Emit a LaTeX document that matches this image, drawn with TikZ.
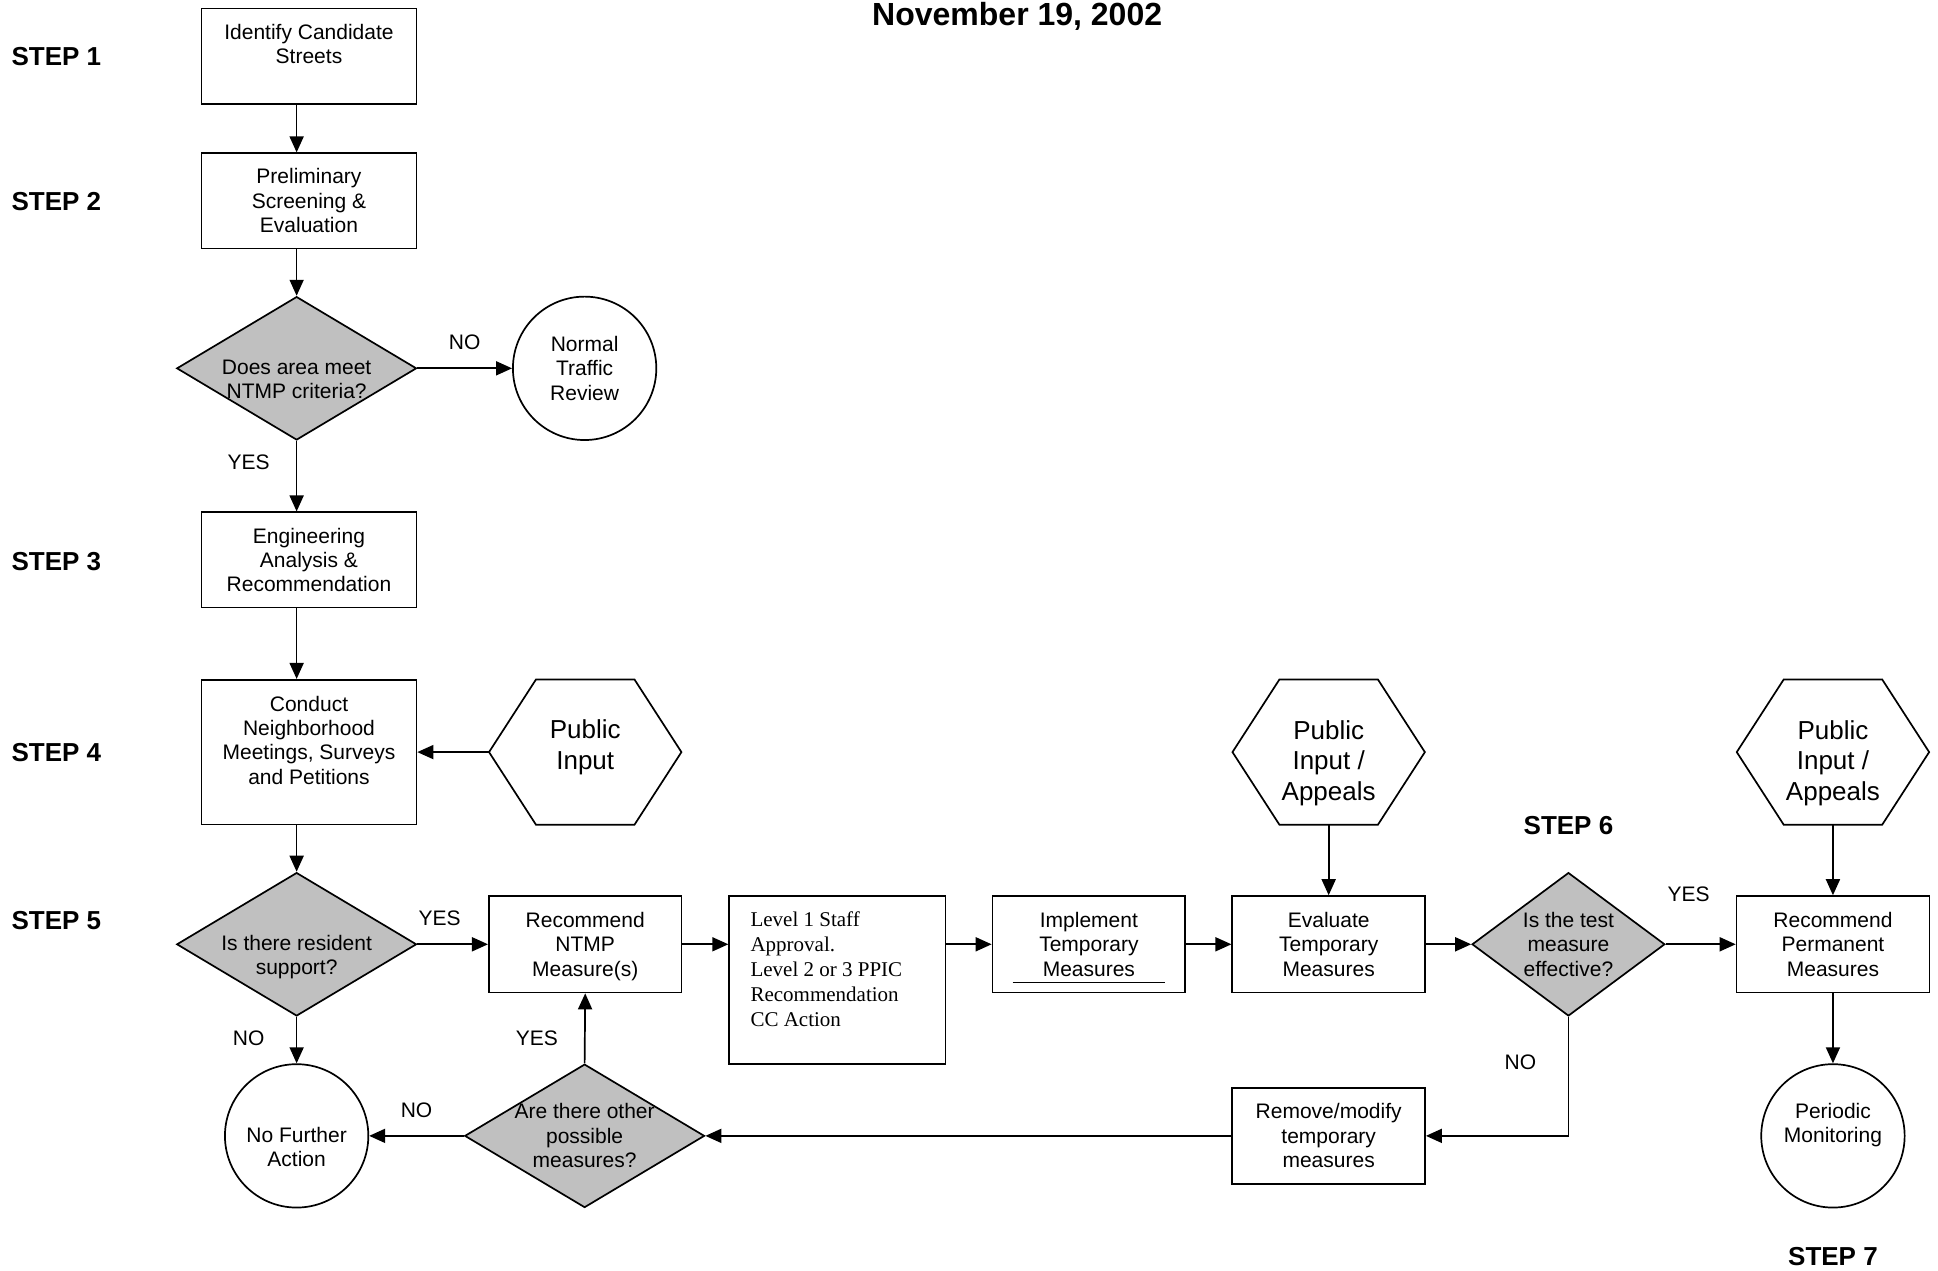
\documentclass[tikz,border=0pt]{standalone}
\usepackage{fontspec}
\setmainfont{Liberation Sans}
\newfontfamily\tnr{Liberation Serif}
\usetikzlibrary{shapes.geometric,arrows.meta,calc}
\definecolor{dgray}{RGB}{192,192,192}
\begin{document}
\begin{tikzpicture}[x=0.618pt,y=-0.618pt,
  ln/.style={line width=0.85pt},
  arr/.style={ln,-{Triangle[length=8pt,width=7pt]}},
  t/.style={font=\fontsize{10.5}{12.2}\selectfont,align=center},
  big/.style={font=\fontsize{13}{15.4}\selectfont,align=center},
  yn/.style={font=\fontsize{10.5}{12}\selectfont},
  steplab/.style={font=\bfseries\fontsize{13}{15}\selectfont,inner sep=0pt},
  boxa/.style={draw,ln,rectangle,inner sep=0pt,minimum width=107.5pt,minimum height=47.6pt,t},
  boxb/.style={draw,ln,rectangle,inner sep=0pt,minimum width=96.4pt,minimum height=48.2pt,t},
  dia/.style={draw,ln,diamond,fill=dgray,inner sep=0pt,minimum width=119.9pt,minimum height=71.7pt},
  circ/.style={draw,ln,circle,inner sep=0pt,minimum size=71.7pt,t},
  hex/.style={rectangle,inner sep=0pt,minimum width=95.8pt,minimum height=72.3pt}
]
\useasboundingbox (0,0) rectangle (1568,1028);

% title and step labels
\node[font=\bfseries\fontsize{16}{19}\selectfont] (title) at (823,13) {November 19, 2002};
\node[steplab,anchor=west] (s1) at (9,46) {STEP 1};
\node[steplab,anchor=west] (s2) at (9,163) {STEP 2};
\node[steplab,anchor=west] (s3) at (9,454) {STEP 3};
\node[steplab,anchor=west] (s4) at (9,609) {STEP 4};
\node[steplab,anchor=west] (s5) at (9,745) {STEP 5};
\node[steplab] (s6) at (1269,668) {STEP 6};
\node[steplab] (s7) at (1483,1017) {STEP 7};

% left column
\node[boxa,label={[t,yshift=6pt]center:Identify Candidate\\Streets}] (b1) at (250,45.5) {};
\node[boxa] (b2) at (250,162.5) {Preliminary\\Screening \&\\Evaluation};
\node[dia,label={[t,yshift=-5.5pt]center:Does area meet\\NTMP criteria?}] (d1) at (240,298) {};
\node[circ] (c1) at (473,298) {Normal\\Traffic\\Review};
\node[boxa] (b3) at (250,453) {Engineering\\Analysis \&\\Recommendation};
\node[boxa,minimum height=72.3pt,label={[t,yshift=6pt]center:Conduct\\Neighborhood\\Meetings, Surveys\\and Petitions}] (b4) at (250,608.5) {};
\node[hex,label={[big,yshift=2.5pt]center:Public\\Input}] (h1) at (473.5,608.5) {};
\node[dia,label={[t,yshift=-6.5pt]center:Is there resident\\support?}] (d2) at (240,764) {};
\node[circ,label={[t,yshift=-5.5pt]center:No Further\\Action}] (nf) at (240,919) {};

% middle row
\node[boxb,label={[t,yshift=-1pt]center:Recommend\\NTMP\\Measure(s)}] (rec) at (473.5,764) {};
\node[draw,ln,rectangle,inner sep=0pt,minimum width=108.2pt,minimum height=84pt,
  label={[font=\tnr\fontsize{10.5}{12.4}\selectfont,align=left,xshift=-5.5pt,yshift=5.5pt]center:Level 1 Staff\\Approval.\\Level 2 or 3 PPIC\\Recommendation\\CC Action}] (lvl) at (677.5,793) {};
\node[boxb] (impl) at (881,764) {Implement\\Temporary\\Measures};
\node[boxb] (ev) at (1075,764) {Evaluate\\Temporary\\Measures};
\node[hex,label={[big,yshift=-5.5pt]center:Public\\Input /\\Appeals}] (h2) at (1075,608.5) {};
\node[dia,minimum width=96.4pt,label={[t]center:Is the test\\measure\\effective?}] (d3) at (1269,764) {};
\node[boxb] (rp) at (1483,764) {Recommend\\Permanent\\Measures};
\node[hex,label={[big,yshift=-5.5pt]center:Public\\Input /\\Appeals}] (h3) at (1483,608.5) {};
\node[circ,label={[t,yshift=5.5pt]center:Periodic\\Monitoring}] (pm) at (1483,919) {};
\node[dia,label={[t]center:Are there other\\possible\\measures?}] (d4) at (473,919) {};
\node[boxb] (rm) at (1075,919) {Remove/modify\\temporary\\measures};

% hexagon outlines
\foreach \h in {h1,h2,h3}
  \draw[ln] (\h.west) -- ([xshift=23.5pt]\h.north west) -- ([xshift=-23.5pt]\h.north east)
    -- (\h.east) -- ([xshift=-23.5pt]\h.south east) -- ([xshift=23.5pt]\h.south west) -- cycle;

% underline in implement box
\draw[line width=0.6pt] ($(impl.south west)+(17,-9)$) -- ($(impl.south east)+(-17,-9)$);

% connectors
\draw[arr] (b1.south -| d1.north) -- (b2.north -| d1.north);
\draw[arr] (b2.south -| d1.north) -- (d1.north);
\draw[arr] (d1.east) -- node[yn,yshift=13pt] (lno1) {NO} (c1.west);
\draw[arr] (d1.south) -- node[yn,xshift=-24pt,yshift=7pt] (lyes1) {YES} (b3.north -| d1.south);
\draw[arr] (b3.south -| d1.south) -- (b4.north -| d1.south);
\draw[arr] (h1.west) -- (b4.east);
\draw[arr] (b4.south -| d2.north) -- (d2.north);
\draw[arr] (d2.east) -- node[yn,xshift=-6.5pt,yshift=13pt] (lyes2) {YES} (rec.west);
\draw[arr] (d2.south) -- node[yn,xshift=-24pt,yshift=1pt] (lno2) {NO} (nf.north);
\draw[arr] (rec.east) -- (lvl.west |- rec.east);
\draw[arr] (lvl.east |- impl.west) -- (impl.west);
\draw[arr] (impl.east) -- (ev.west);
\draw[arr] (h2.south) -- (ev.north);
\draw[arr] (ev.east) -- (d3.west);
\draw[arr] (d3.east) -- node[yn,xshift=-6pt,yshift=25pt] (lyes3) {YES} (rp.west);
\draw[arr] (h3.south) -- (rp.north);
\draw[arr] (rp.south) -- (pm.north);
\draw[arr] (d3.south) |- node[pos=0.25,yn,xshift=-24pt,yshift=7pt] (lno3) {NO} (rm.east);
\draw[arr] (rm.west) -- (d4.east);
\draw[arr] (d4.west) -- node[yn,yshift=13pt] (lno4) {NO} (nf.east);
\draw[arr] (d4.north) -- node[yn,xshift=-24pt,yshift=-5pt] (lyes4) {YES} (rec.south);
\end{tikzpicture}
\end{document}
